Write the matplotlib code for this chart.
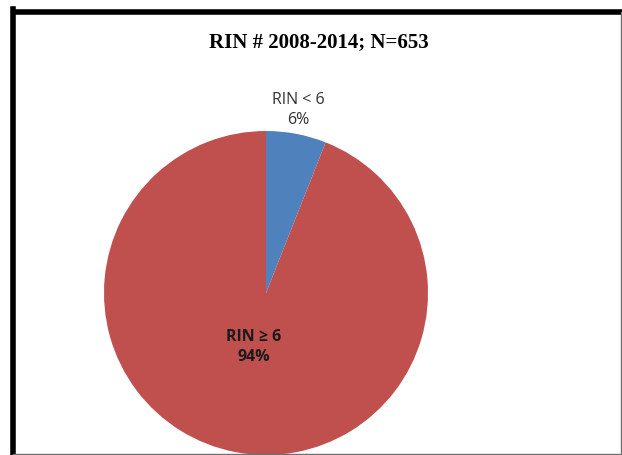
import matplotlib.pyplot as plt
from matplotlib.lines import Line2D

# Datos
categorias = ['RIN < 6', 'RIN \u2265 6']
porcentajes = [6, 94]
colores = ['#4F81BD', '#C0504D']
titulo = 'RIN # 2008-2014; N=653'

W, H = 622, 456
fig = plt.figure(figsize=(W / 100, H / 100), dpi=100)

# Eje del pastel: centro (266, 294) px, radio 162 px
cx, cy, r = 266, 294, 162
ax = fig.add_axes([(cx - r) / W, (H - cy - r) / H, 2 * r / W, 2 * r / H])
ax.pie(porcentajes, colors=colores, startangle=90, counterclock=False,
       radius=1, wedgeprops=dict(linewidth=0))
ax.set_xlim(-1, 1)
ax.set_ylim(-1, 1)
ax.set_aspect('equal')
ax.axis('off')

# Etiquetas
ax.text(0.198, 1.136, f'{categorias[0]}\n{porcentajes[0]}%', ha='center', va='center',
        fontsize=11.5, family='Open Sans', color='#333333', linespacing=1.4)
ax.text(-0.074, -0.327, f'{categorias[1]}\n{porcentajes[1]}%', ha='center', va='center',
        fontsize=11.5, family='Open Sans', fontweight='bold', color='#1a1a1a', linespacing=1.4)

# Título
fig.text(319 / W, 1 - 42 / H, titulo, ha='center', va='center',
         fontsize=15, family='Liberation Serif', fontweight='bold')

# Marco
fig.add_artist(Line2D([13 / W, 13 / W], [0, 1 - 10 / H], color='black', lw=4, transform=fig.transFigure, solid_capstyle='projecting'))
fig.add_artist(Line2D([13 / W, 1], [1 - 12.5 / H, 1 - 12.5 / H], color='black', lw=4, transform=fig.transFigure, solid_capstyle='butt'))
fig.add_artist(Line2D([620.5 / W, 620.5 / W], [0, 1 - 12.5 / H], color='#707070', lw=1, transform=fig.transFigure))
fig.add_artist(Line2D([13 / W, 1], [1.5 / H, 1.5 / H], color='#707070', lw=1, transform=fig.transFigure))

plt.savefig('out.png', dpi=100)
